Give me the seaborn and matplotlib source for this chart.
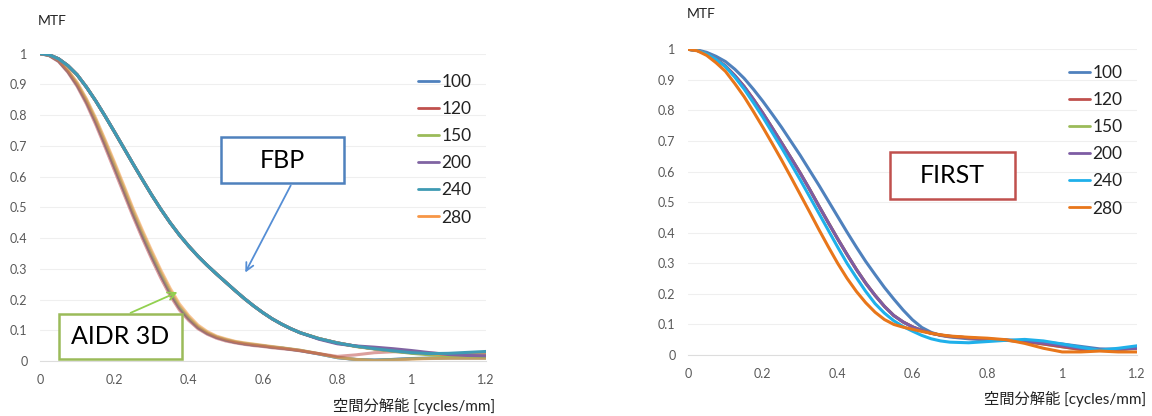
import matplotlib
matplotlib.use("Agg")
import matplotlib.pyplot as plt
import seaborn as sns
from matplotlib.patches import Rectangle, FancyArrowPatch
from matplotlib.lines import Line2D

sns.set_style("white")
plt.rcParams['font.family'] = ['Lato', 'Noto Sans CJK JP', 'DejaVu Sans']

# 空間周波数 [cycles/mm]
x_freq = [0.0, 0.025, 0.05, 0.075, 0.1, 0.125, 0.15, 0.175, 0.2, 0.225,
          0.25, 0.275, 0.3, 0.325, 0.35, 0.375, 0.4, 0.425, 0.45, 0.475,
          0.5, 0.525, 0.55, 0.575, 0.6, 0.625, 0.65, 0.675, 0.7,
          0.75, 0.8, 0.85, 0.9, 0.95, 1.0, 1.05, 1.1, 1.15, 1.2]

doses = ["100", "120", "150", "200", "240", "280"]

# 左: FBP (0〜0.7 はほぼ共通)
fbp_core = [1.0, 0.996, 0.983, 0.961, 0.931, 0.891, 0.846, 0.797, 0.746, 0.694,
            0.642, 0.591, 0.541, 0.494, 0.45, 0.41, 0.374, 0.341, 0.311, 0.283,
            0.256, 0.229, 0.203, 0.179, 0.157, 0.137, 0.12, 0.105, 0.092]
fbp_100 = fbp_core + [0.073, 0.059, 0.048, 0.040, 0.034, 0.028, 0.024, 0.022, 0.021, 0.021]
fbp_120 = fbp_core + [0.073, 0.059, 0.048, 0.040, 0.033, 0.027, 0.023, 0.020, 0.019, 0.018]
fbp_150 = fbp_core + [0.073, 0.058, 0.047, 0.039, 0.032, 0.025, 0.020, 0.017, 0.016, 0.015]
fbp_200 = fbp_core + [0.071, 0.056, 0.049, 0.045, 0.040, 0.034, 0.027, 0.021, 0.018, 0.017]
fbp_240 = fbp_core + [0.073, 0.059, 0.048, 0.040, 0.033, 0.027, 0.024, 0.025, 0.028, 0.031]
fbp_280 = fbp_core + [0.073, 0.059, 0.048, 0.040, 0.034, 0.028, 0.024, 0.021, 0.020, 0.020]

# 左: AIDR 3D
aidr_120 = [1.0, 0.993, 0.974, 0.939, 0.893, 0.836, 0.769, 0.696, 0.621, 0.546,
            0.471, 0.4, 0.333, 0.27, 0.213, 0.166, 0.132, 0.105, 0.087, 0.074,
            0.065, 0.059, 0.054, 0.05, 0.047, 0.043, 0.04, 0.037, 0.033,
            0.024, 0.015, 0.02, 0.027, 0.03, 0.029, 0.026, 0.022, 0.019, 0.017]
aidr_mid = [1.0, 0.994, 0.976, 0.942, 0.898, 0.843, 0.778, 0.706, 0.632, 0.557,
            0.481, 0.41, 0.343, 0.28, 0.222, 0.173, 0.138, 0.109, 0.09, 0.077,
            0.068, 0.061, 0.056, 0.052, 0.049, 0.045, 0.042, 0.038, 0.034,
            0.023, 0.011, 0.005, 0.003, 0.005, 0.008, 0.009, 0.01, 0.01, 0.01]
aidr_150 = [1.0, 0.994, 0.978, 0.945, 0.903, 0.849, 0.785, 0.714, 0.641, 0.566,
            0.49, 0.42, 0.353, 0.289, 0.23, 0.18, 0.143, 0.113, 0.093, 0.079,
            0.07, 0.063, 0.058, 0.054, 0.05, 0.046, 0.043, 0.039, 0.035,
            0.024, 0.012, 0.005, 0.002, 0.004, 0.007, 0.009, 0.01, 0.01, 0.01]
aidr_280 = [1.0, 0.995, 0.979, 0.947, 0.906, 0.853, 0.79, 0.72, 0.648, 0.573,
            0.497, 0.427, 0.36, 0.296, 0.237, 0.186, 0.148, 0.117, 0.096, 0.081,
            0.072, 0.064, 0.059, 0.055, 0.051, 0.047, 0.043, 0.039, 0.035,
            0.024, 0.012, 0.005, 0.001, 0.003, 0.006, 0.008, 0.009, 0.009, 0.009]
aidr_100 = aidr_mid
aidr_200 = aidr_mid
aidr_240 = aidr_mid

# 右: FIRST
first_100 = [1.0, 0.998, 0.99, 0.977, 0.96, 0.935, 0.905, 0.869, 0.83, 0.788,
             0.745, 0.699, 0.653, 0.604, 0.555, 0.504, 0.453, 0.402, 0.353, 0.306,
             0.263, 0.221, 0.183, 0.147, 0.115, 0.09, 0.074, 0.064, 0.059,
             0.053, 0.049, 0.048, 0.046, 0.042, 0.036, 0.028, 0.02, 0.018, 0.022]
first_core = [1.0, 0.996, 0.985, 0.968, 0.945, 0.914, 0.878, 0.836, 0.791, 0.743,
              0.694, 0.645, 0.595, 0.542, 0.487, 0.433, 0.38, 0.329, 0.28, 0.235,
              0.195, 0.159, 0.129, 0.108, 0.092, 0.08, 0.071, 0.065, 0.061]
first_120 = first_core + [0.056, 0.051, 0.048, 0.044, 0.036, 0.027, 0.018, 0.015, 0.018, 0.024]
first_150 = first_core + [0.056, 0.051, 0.048, 0.044, 0.036, 0.027, 0.018, 0.015, 0.018, 0.024]
first_200 = first_core + [0.056, 0.052, 0.049, 0.046, 0.039, 0.031, 0.022, 0.018, 0.019, 0.022]
first_240 = [1.0, 0.996, 0.985, 0.967, 0.943, 0.909, 0.87, 0.825, 0.778, 0.728,
             0.678, 0.626, 0.573, 0.518, 0.463, 0.408, 0.353, 0.3, 0.253, 0.208,
             0.168, 0.137, 0.112, 0.093, 0.078, 0.064, 0.053, 0.046, 0.042,
             0.04, 0.044, 0.048, 0.051, 0.046, 0.036, 0.025, 0.016, 0.022, 0.03]
first_280 = [1.0, 0.995, 0.98, 0.956, 0.928, 0.888, 0.845, 0.796, 0.745, 0.692,
             0.638, 0.582, 0.525, 0.468, 0.41, 0.354, 0.3, 0.251, 0.208, 0.171,
             0.14, 0.116, 0.1, 0.091, 0.084, 0.077, 0.071, 0.066, 0.062,
             0.058, 0.055, 0.05, 0.038, 0.022, 0.01, 0.01, 0.013, 0.01, 0.01]

fbp = dict(zip(doses, [fbp_100, fbp_120, fbp_150, fbp_200, fbp_240, fbp_280]))
aidr = dict(zip(doses, [aidr_100, aidr_120, aidr_150, aidr_200, aidr_240, aidr_280]))
first = dict(zip(doses, [first_100, first_120, first_150, first_200, first_240, first_280]))

colors_left = dict(zip(doses, ["#4F81BD", "#C0504D", "#9BBB59", "#8064A2", "#3F9AB3", "#F79646"]))
colors_right = dict(zip(doses, ["#4F81BD", "#C0504D", "#9BBB59", "#7D5CA3", "#1FB0EA", "#E8761A"]))

W, H = 1152, 416
fig = plt.figure(figsize=(W / 100, H / 100), dpi=100)


def fx(px):
    return px / W


def fy(py):
    return 1 - py / H


def style_axes(ax):
    ax.set_xlim(0, 1.2)
    ax.set_ylim(0, 1.0)
    ax.set_xticks([0, 0.2, 0.4, 0.6, 0.8, 1.0, 1.2])
    ax.set_xticklabels(["0", "0.2", "0.4", "0.6", "0.8", "1", "1.2"])
    ax.set_yticks([i / 10 for i in range(11)])
    ax.set_yticklabels(["0"] + [f"0.{i}" for i in range(1, 10)] + ["1"])
    ax.yaxis.grid(True, color="#EFEFEF", lw=0.8)
    ax.xaxis.grid(False)
    for s in ["left", "top", "right"]:
        ax.spines[s].set_visible(False)
    ax.spines["bottom"].set_color("#DDDDDD")
    ax.spines["bottom"].set_linewidth(0.8)
    ax.tick_params(axis="x", length=4, color="#DDDDDD", pad=5, labelsize=9, labelcolor="#595959")
    ax.tick_params(axis="y", length=0, pad=9, labelsize=9, labelcolor="#595959")
    ax.set_xlabel("")
    ax.set_ylabel("")


def add_legend(ax, colors, x0, y0):
    handles = [Line2D([0], [0], color=colors[d], lw=2) for d in doses]
    ax.legend(handles, doses, loc="upper left", bbox_to_anchor=(fx(x0), fy(y0)),
              bbox_transform=fig.transFigure, frameon=False, fontsize=12.5,
              handlelength=1.2, handletextpad=0.15, labelspacing=0.64,
              borderpad=0, borderaxespad=0, labelcolor="#222222")


def add_box(x0, y0, x1, y1, edge, label):
    fig.add_artist(Rectangle((fx(x0), fy(y1)), fx(x1 - x0), (y1 - y0) / H,
                             transform=fig.transFigure, fill=True, facecolor="white",
                             edgecolor=edge, lw=1.8, zorder=5))
    fig.text(fx((x0 + x1) / 2), fy((y0 + y1) / 2), label, ha="center", va="center",
             fontsize=18, color="black", zorder=6)


def add_arrow(x0, y0, x1, y1, color):
    fig.add_artist(FancyArrowPatch((fx(x0), fy(y0)), (fx(x1), fy(y1)),
                                   transform=fig.transFigure, arrowstyle="->",
                                   mutation_scale=14, color=color, lw=1.3, zorder=6))


# 左パネル: FBP / AIDR 3D
ax_l = fig.add_axes([fx(40), fy(361), fx(486 - 40), (361 - 53.6) / H])
for d in ["100", "200", "240", "150", "280", "120"]:
    sns.lineplot(x=x_freq, y=aidr[d], color=colors_left[d], alpha=0.55, lw=2.2, ax=ax_l)
for d in ["100", "120", "150", "280", "200", "240"]:
    sns.lineplot(x=x_freq, y=fbp[d], color=colors_left[d], lw=2.2, ax=ax_l)
style_axes(ax_l)
add_legend(ax_l, colors_left, 418, 74)

# 右パネル: FIRST
ax_r = fig.add_axes([fx(688), fy(355), fx(1137 - 688), (355 - 49.3) / H])
for d in ["100", "150", "120", "200", "240", "280"]:
    sns.lineplot(x=x_freq, y=first[d], color=colors_right[d], lw=2.2, ax=ax_r)
style_axes(ax_r)
add_legend(ax_r, colors_right, 1069, 65)

# ラベル
fig.text(fx(38), fy(21), "MTF", ha="left", va="center", fontsize=10, color="#222222")
fig.text(fx(687), fy(14), "MTF", ha="left", va="center", fontsize=10, color="#222222")
fig.text(fx(495), fy(406), "空間分解能 [cycles/mm]", ha="right", va="center", fontsize=11, color="#222222")
fig.text(fx(1146), fy(399), "空間分解能 [cycles/mm]", ha="right", va="center", fontsize=11, color="#222222")

# 注釈ボックスと矢印
add_box(221, 137, 344, 183, "#4F81BD", "FBP")
add_arrow(292, 183, 244, 275, "#558ED5")
add_box(59, 314, 182, 359, "#9BBB59", "AIDR 3D")
add_arrow(128, 314, 180, 291, "#92D050")
add_box(890, 152, 1015, 199, "#C0504D", "FIRST")

fig.savefig("out.png", dpi=100)
